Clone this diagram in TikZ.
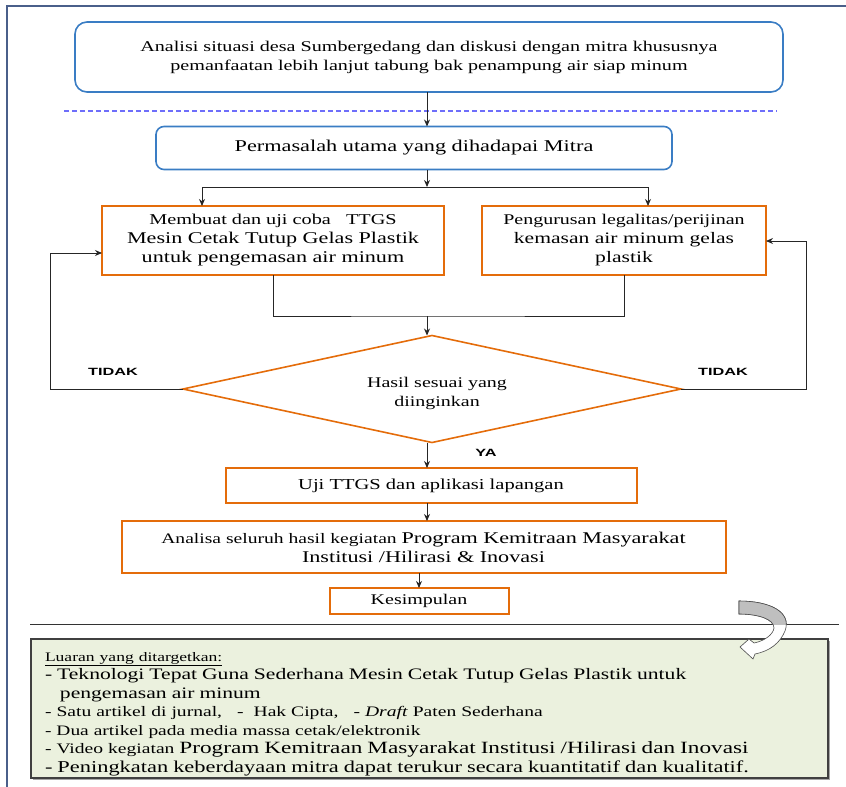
\documentclass[tikz,border=0pt]{standalone}
\usepackage{fontspec}
\setmainfont{Liberation Serif}[FakeStretch=1.35]
\newfontfamily\tidakfont{Liberation Sans}[FakeStretch=1.55]
\usetikzlibrary{positioning, arrows.meta, shapes.geometric, shadows}
\definecolor{frameblue}{RGB}{74,95,138}
\definecolor{boxblue}{RGB}{58,125,196}
\definecolor{boxorange}{RGB}{228,108,10}
\definecolor{dashblue}{RGB}{110,110,250}
\definecolor{outgreen}{RGB}{235,241,222}
\newcommand{\fs}[1]{\fontsize{#1}{19}\selectfont}
\newcommand{\gs}[1]{\fontsize{#1}{18.5}\selectfont}
\tikzset {
    >={Stealth[length=7pt, width=6pt]},
    x=1pt, y=-1pt,
    every node/.style={inner sep=0pt, outer sep=0pt},
    bluebox/.style={draw=boxblue, line width=1.6pt, align=center},
    orangebox/.style={draw=boxorange, line width=2pt, align=center},
    decision/.style={diamond, draw=boxorange, line width=1.6pt, aspect=4.654,
        minimum width=498pt, minimum height=107pt},
    flow/.style={draw=black!85, line width=0.9pt},
    tidak/.style={font=\tidakfont\bfseries\fontsize{10.5}{12}\selectfont}
}
\begin{document}
\begin{tikzpicture}
    \useasboundingbox (0,0) rectangle (846,787);
    % frame and separators
    \draw[frameblue, line width=1.8pt] (7,787) -- (7,6) -- (846,6);
    \draw[dashblue, dash pattern=on 5pt off 3pt, line width=1.1pt] (64,111) -- (777,111);
    \draw[black!80, line width=1pt] (30,624) -- (839,624);

    \node[bluebox, rounded corners=12pt, minimum width=708pt, minimum height=70pt,
        font=\fs{14.9}] (situasi) at (429,57)
        {Analisi situasi desa Sumbergedang dan diskusi dengan mitra khususnya\\
         pemanfaatan lebih lanjut tabung bak penampung air siap minum};
    \node[bluebox, rounded corners=8pt, minimum width=516pt, minimum height=43pt,
        font=\fs{16.5}] (masalah) at (414,148) {Permasalah utama yang dihadapai Mitra};

    \node[orangebox, minimum width=342pt, minimum height=69pt, font=\fs{16.4}] (buat) at (273,240.5)
        {\fs{15}Membuat dan uji coba\ \ \ TTGS\\
         \fs{16.4}Mesin Cetak Tutup Gelas Plastik\\
         \fs{16.4}untuk pengemasan air minum};
    \node[orangebox, minimum width=284pt, minimum height=69pt, font=\fs{16}] (legal) at (624,240.5)
        {\fs{14.8}Pengurusan legalitas/perijinan\\ \fs{16}kemasan air minum gelas\\ \fs{16}plastik};

    \node[decision] (hasil) at (432,389) {};
    \node[font=\fs{14.8}, align=center] (hasilteks) at (437,393) {Hasil sesuai yang\\diinginkan};

    \node[orangebox, minimum width=411pt, minimum height=35pt, font=\fs{15.2}] (uji) at (431,485.5)
        {Uji TTGS dan aplikasi lapangan};
    \node[orangebox, minimum width=604pt, minimum height=52pt, font=\fs{16.4}] (analisa) at (423.5,547)
        {{\fs{14.5}Analisa seluruh hasil kegiatan }{\fs{16.4}Program Kemitraan Masyarakat}\\
         \fs{16.4}Institusi /Hilirasi \& Inovasi};
    \node[orangebox, minimum width=179pt, minimum height=26pt, font=\fs{14.8}] (simpul) at (419,601)
        {Kesimpulan};

    \node[draw=black!75, line width=1.2pt, fill=outgreen,
        drop shadow={shadow xshift=1.5pt, shadow yshift=-1.5pt, opacity=0.7},
        minimum width=797pt, minimum height=139pt] (luaran) at (429.5,708.5) {};
    \node[text width=770pt, align=left, anchor=north west, font=\gs{15}] (luaranteks) at (45,652)
        {{\gs{13}\underline{Luaran yang ditargetkan:}}\\
         {\gs{16}- Teknologi Tepat Guna Sederhana Mesin Cetak Tutup Gelas Plastik untuk}\\
         {\gs{16}\ \ \ pengemasan air minum}\\
         {\gs{14.5}- Satu artikel di jurnal,\ \ \ -\ \ Hak Cipta,\ \ \ - \textit{Draft} Paten Sederhana}\\
         {\gs{14.4}- Dua artikel pada media massa cetak/elektronik}\\
         {\gs{14.5}- Video kegiatan }{\gs{17.2}Program Kemitraan Masyarakat Institusi /Hilirasi dan Inovasi}\\
         {\gs{16.6}- Peningkatan keberdayaan mitra dapat terukur secara kuantitatif dan kualitatif.}};

    % curved arrow
    \begin{scope}[line width=0.6pt, draw=black!70]
        \path[fill=white, draw=black!70] (739,601) .. controls (770,601) and (792,612) .. (785,631)
            .. controls (780,643) and (770,651) .. (755,654) -- (753,659) -- (740,647) -- (749,639)
            -- (754,643) .. controls (764,641) and (773,635) .. (774,628)
            .. controls (774,619) and (758,614) .. (739,614) -- cycle;
        \begin{scope}
            \clip (700,590) rectangle (800,624);
            \path[fill=black!25, draw=black!70] (739,601) .. controls (770,601) and (792,612) .. (785,631)
                -- (774,628) .. controls (774,619) and (758,614) .. (739,614) -- cycle;
        \end{scope}
    \end{scope}

    % connectors
    \coordinate (spine) at (427,0);
    \coordinate (split) at (427,187);
    \coordinate (splitL) at (202,187);
    \coordinate (splitR) at (648,187);
    \coordinate (merge) at (427,316);
    \coordinate (loopL) at (50,253);
    \coordinate (loopR) at (806,241);

    \draw[flow, ->] (situasi.south -| spine) -- (masalah.north -| spine);
    \draw[flow, ->] (masalah.south -| spine) -- (split);
    \draw[flow] (splitL) -- (splitR);
    \draw[flow, ->] (splitL) -- (splitL |- buat.north);
    \draw[flow, ->] (splitR) -- (splitR |- legal.north);
    \draw[flow] (buat.south) |- (merge) -| (legal.south);
    \draw[flow, ->] (merge) -- (merge |- hasil.north);
    \draw[flow, ->] (hasil.west) -| (loopL) -- (loopL -| buat.west);
    \draw[flow, ->] (hasil.east) -| (loopR) -- (loopR -| legal.east);
    \draw[flow, ->] (hasil.south -| spine) -- (uji.north -| spine);
    \draw[flow, ->] (uji.south -| spine) -- (analisa.north -| spine);
    \draw[flow, ->] (analisa.south -| simpul.north) -- (simpul.north);

    \node[tidak] (tidakL) at (113,372) {TIDAK};
    \node[tidak] (tidakR) at (723,372) {TIDAK};
    \node[tidak] (ya) at (486,453) {YA};
\end{tikzpicture}
\end{document}
